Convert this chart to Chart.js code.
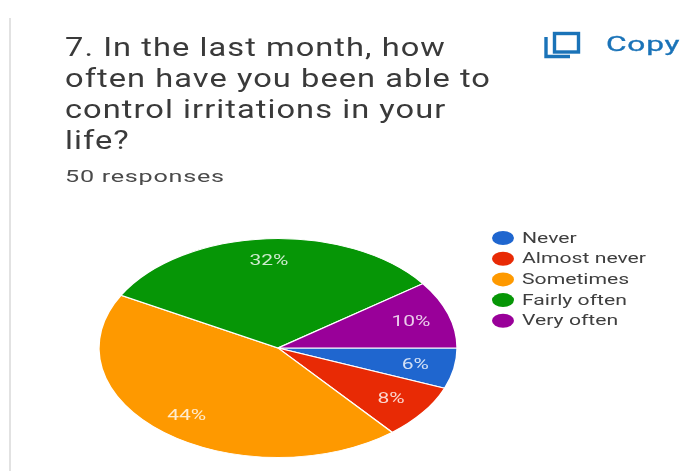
<!DOCTYPE html>
<html>
<head>
<meta charset="utf-8">
<title>Responses</title>
<script src="https://cdn.jsdelivr.net/npm/chart.js@4"></script>
<style>
  html, body { margin: 0; padding: 0; background: #fff; }
  body { width: 697px; height: 471px; overflow: hidden; position: relative; font-family: Roboto, sans-serif; }
  #grafico { position: absolute; left: 0; top: 0; }
  #borde { position: absolute; left: 9px; top: 18px; width: 2px; height: 453px; background: #e2e2e2; }
  .linea { position: absolute; left: 65px; white-space: nowrap; transform-origin: left top; color: #3a3a3a; }
  .titulo { font-size: 25px; line-height: 31px; transform: scaleX(1.305); letter-spacing: 0.8px; }
  #respuestas { top: 165px; font-size: 17px; line-height: 22px; transform: scaleX(1.48); letter-spacing: 0.5px; color: #4a4a4a; }
  #copiar { position: absolute; left: 606px; top: 31px; font-size: 20px; line-height: 26px; color: #1a73b8; -webkit-text-stroke: 0.3px #1a73b8; transform-origin: left top; transform: scaleX(1.58); letter-spacing: 0.5px; }
  #icono { position: absolute; left: 543px; top: 31px; }
</style>
</head>
<body>
<div id="borde"></div>
<canvas id="grafico" width="697" height="471"></canvas>
<div id="encabezado"></div>
<div class="linea" id="respuestas">50 responses</div>
<svg id="icono" width="38" height="30" viewBox="0 0 38 30">
  <path d="M3 6 V25.5 H27" fill="none" stroke="#1a73b8" stroke-width="3.4"/>
  <rect x="11.5" y="2.5" width="24" height="18.5" fill="none" stroke="#1a73b8" stroke-width="3.4"/>
</svg>
<div id="copiar">Copy</div>

<script>
const tituloLineas = [
  '7. In the last month, how',
  'often have you been able to',
  'control irritations in your',
  'life?'
];
const etiquetas = ['Never', 'Almost never', 'Sometimes', 'Fairly often', 'Very often'];
const valores = [6, 8, 44, 32, 10];
const colores = ['#1f66cf', '#e82a05', '#fe9900', '#069606', '#990099'];

// Pintar el titulo
tituloLineas.forEach((texto, i) => {
  const div = document.createElement('div');
  div.className = 'linea titulo';
  div.style.top = (31.5 + i * 31) + 'px';
  div.textContent = texto;
  document.getElementById('encabezado').appendChild(div);
});

// La torta es circular para Chart.js, aqui se estira a lo ancho
const ESTIRAR = 180 / 110;

const tortaAncha = {
  id: 'tortaAncha',
  beforeDatasetsDraw(chart) {
    const ctx = chart.ctx;
    const cx = (chart.chartArea.left + chart.chartArea.right) / 2;
    ctx.save();
    ctx.translate(cx, 0);
    ctx.scale(ESTIRAR, 1);
    ctx.translate(-cx, 0);
  },
  afterDatasetsDraw(chart) {
    chart.ctx.restore();
  }
};

// Porcentajes dentro de cada rebanada
const porcentajes = {
  id: 'porcentajes',
  afterDraw(chart) {
    const ctx = chart.ctx;
    const cx = (chart.chartArea.left + chart.chartArea.right) / 2;
    const total = valores.reduce((a, b) => a + b, 0);
    const arcos = chart.getDatasetMeta(0).data;
    ctx.save();
    ctx.font = '14px Roboto, sans-serif';
    ctx.fillStyle = 'rgba(255,255,255,0.8)';
    ctx.textAlign = 'center';
    ctx.textBaseline = 'middle';
    arcos.forEach((arco, i) => {
      const medio = (arco.startAngle + arco.endAngle) / 2;
      const r = arco.outerRadius * (valores[i] < 15 ? 0.78 : 0.8);
      const x = cx + Math.cos(medio) * r * ESTIRAR;
      const y = arco.y + Math.sin(medio) * r + 1;
      ctx.save();
      ctx.translate(x, y);
      ctx.scale(1.5, 1);
      ctx.fillText(Math.round(valores[i] / total * 100) + '%', 0, 0);
      ctx.restore();
    });
    ctx.restore();
  }
};

// Leyenda con marcas ovaladas
const leyenda = {
  id: 'leyenda',
  afterDraw(chart) {
    const ctx = chart.ctx;
    ctx.save();
    ctx.textBaseline = 'middle';
    ctx.font = '14.5px Roboto, sans-serif';
    etiquetas.forEach((etiqueta, i) => {
      const y = 238 + i * 20.7;
      ctx.fillStyle = colores[i];
      ctx.beginPath();
      ctx.ellipse(503, y, 11, 7, 0, 0, Math.PI * 2);
      ctx.fill();
      ctx.save();
      ctx.translate(522, y + 1);
      ctx.scale(1.46, 1);
      ctx.fillStyle = '#3f3f3f';
      ctx.fillText(etiqueta, 0, 0);
      ctx.restore();
    });
    ctx.restore();
  }
};

new Chart(document.getElementById('grafico').getContext('2d'), {
  type: 'pie',
  data: {
    labels: etiquetas,
    datasets: [{
      data: valores,
      backgroundColor: colores,
      borderColor: '#ffffff',
      borderWidth: 1
    }]
  },
  options: {
    responsive: false,
    animation: false,
    rotation: 90,
    layout: { padding: { left: 168, right: 309, top: 238, bottom: 13 } },
    plugins: {
      legend: { display: false },
      tooltip: { enabled: false }
    }
  },
  plugins: [tortaAncha, porcentajes, leyenda]
});
</script>
</body>
</html>
